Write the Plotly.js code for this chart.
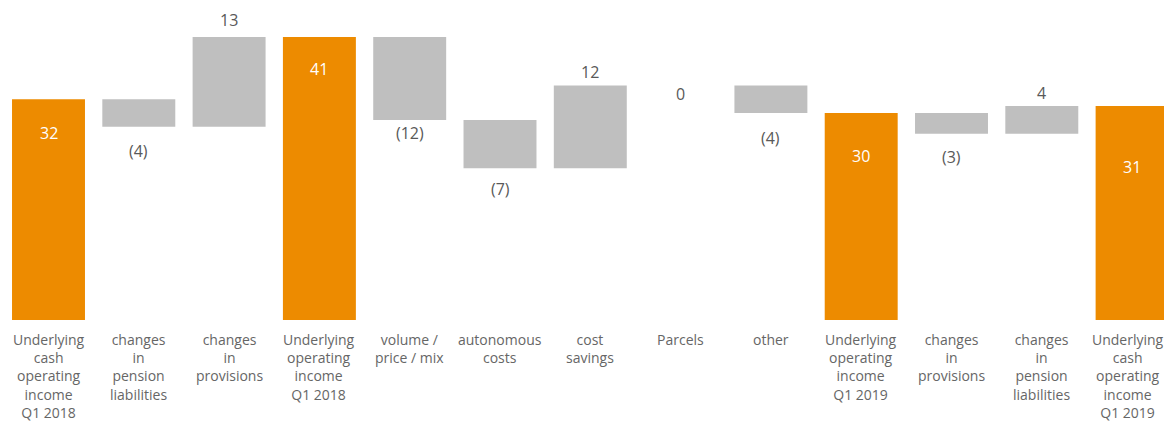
<!DOCTYPE html>
<html>
<head>
<meta charset="utf-8">
<script src="https://cdn.plot.ly/plotly-3.0.1.min.js"></script>
<style>html,body{margin:0;padding:0;background:#fff;}#chart{width:1164px;height:421px;}</style>
</head>
<body>
<div id="chart"></div>
<script>
// ---- data ----
var categories = [
  "Underlying<br>cash<br>operating<br>income<br>Q1 2018",
  "changes<br>in<br>pension<br>liabilities",
  "changes<br>in<br>provisions",
  "Underlying<br>operating<br>income<br>Q1 2018",
  "volume /<br>price / mix",
  "autonomous<br>costs",
  "cost<br>savings",
  "Parcels",
  "other",
  "Underlying<br>operating<br>income<br>Q1 2019",
  "changes<br>in<br>provisions",
  "changes<br>in<br>pension<br>liabilities",
  "Underlying<br>cash<br>operating<br>income<br>Q1 2019"
];
var values = [32, -4, 13, 41, -12, -7, 12, 0, -4, 30, -3, 4, 31];
var kinds = ["total","delta","delta","total","delta","delta","delta","delta","delta","total","delta","delta","total"];

// ---- styles (pixel offsets) ----
var labelOffsetPx = [34, 24, -17, 32, 13, 21, -13, 9, 25, 43, 23, -13, 61];
var catLabelShiftPx = [0, 0, 0, 0, 0, 0, 0, 0, 0, 0, 0, 0, -4];
var ORANGE = "#ED8B00", GREY = "#BFBFBF";

var xs = [], bases = [], heights = [], colors = [], anns = [];
var running = 0;
for (var i = 0; i < values.length; i++) {
  xs.push(i);
  var v = values[i];
  var edge, txt, col;
  if (kinds[i] === "total") {
    running = v;
    bases.push(0); heights.push(v); colors.push(ORANGE);
    edge = v; txt = String(v); col = "#FFFFFF";
  } else {
    var start = running, end = running + v;
    running = end;
    bases.push(Math.min(start, end)); heights.push(Math.abs(v)); colors.push(GREY);
    edge = end;
    txt = v < 0 ? "(" + Math.abs(v) + ")" : String(v);
    col = "#595959";
  }
  anns.push({
    x: i, y: edge, xref: "x", yref: "y", text: txt, showarrow: false,
    yanchor: "middle", xanchor: "center", yshift: -labelOffsetPx[i],
    font: {family: "Open Sans", size: 16, color: col}
  });
  // category label below the axis
  anns.push({
    x: i, y: 0, xref: "x", yref: "y", text: categories[i], showarrow: false,
    yanchor: "top", xanchor: "center", align: "center",
    yshift: -8, xshift: catLabelShiftPx[i],
    font: {family: "Open Sans", size: 14, color: "#666666"}
  });
}

var trace = {
  type: "bar", x: xs, y: heights, base: bases,
  marker: {color: colors, line: {width: 0}},
  width: 0.808, hoverinfo: "none", cliponaxis: true
};

var pxPerCat = 90.3;
var layout = {
  width: 1164, height: 421,
  margin: {l: 0, r: 0, t: 0, b: 101, pad: 0},
  paper_bgcolor: "#fff", plot_bgcolor: "#fff",
  showlegend: false,
  xaxis: {
    range: [-48.5 / pxPerCat, -48.5 / pxPerCat + 1164 / pxPerCat],
    showticklabels: false,
    showgrid: false, zeroline: false, showline: false, ticks: ""
  },
  yaxis: {
    range: [0, 320 / 6.9], visible: false, showgrid: false, zeroline: false
  },
  annotations: anns
};

Plotly.newPlot("chart", [trace], layout, {staticPlot: true, displayModeBar: false});
</script>
</body>
</html>
